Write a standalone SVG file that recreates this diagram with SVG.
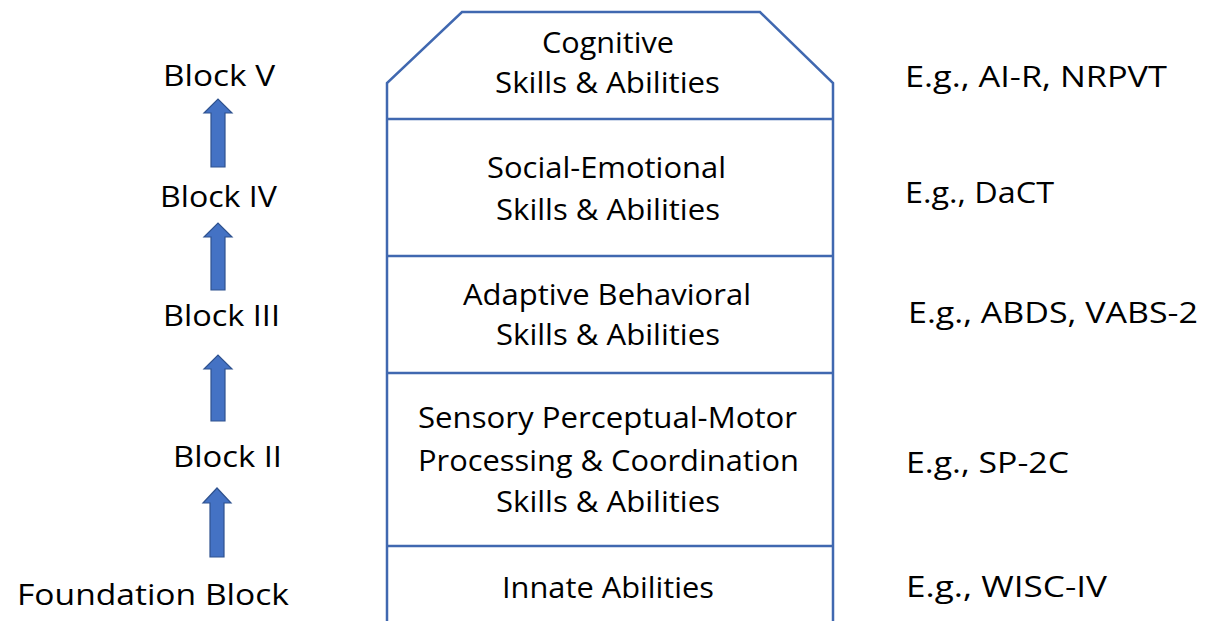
<svg xmlns="http://www.w3.org/2000/svg" width="1214" height="621" viewBox="0 0 1214 621">
<style>
.t{font-family:"Open Sans","Liberation Sans",sans-serif;fill:#000;font-size:30px}
.ln{stroke:#4068B0;stroke-width:2.5;fill:none}
.ar{fill:#4472C4;stroke:#2F528F;stroke-width:1.2}
</style>
<rect width="1214" height="621" fill="#fff"/>
<g id="tower">
<path class="ln" d="M387,621 V83 L462,12 H760 L833,83 V621"/>
<line class="ln" x1="387" y1="119" x2="833" y2="119"/>
<line class="ln" x1="387" y1="256" x2="833" y2="256"/>
<line class="ln" x1="387" y1="373" x2="833" y2="373"/>
<line class="ln" x1="387" y1="546" x2="833" y2="546"/>
</g>
<g id="cognitive"><text class="t" x="542" y="53" textLength="132" lengthAdjust="spacingAndGlyphs">Cognitive</text><text class="t" x="495" y="93" textLength="225" lengthAdjust="spacingAndGlyphs">Skills &amp; Abilities</text></g>
<g id="social"><text class="t" x="487" y="178" textLength="239" lengthAdjust="spacingAndGlyphs">Social-Emotional</text><text class="t" x="496" y="220" textLength="224" lengthAdjust="spacingAndGlyphs">Skills &amp; Abilities</text></g>
<g id="adaptive"><text class="t" x="463" y="305" textLength="288" lengthAdjust="spacingAndGlyphs">Adaptive Behavioral</text><text class="t" x="496" y="345" textLength="224" lengthAdjust="spacingAndGlyphs">Skills &amp; Abilities</text></g>
<g id="sensory"><text class="t" x="418" y="428" textLength="379" lengthAdjust="spacingAndGlyphs">Sensory Perceptual-Motor</text><text class="t" x="418" y="471" textLength="381" lengthAdjust="spacingAndGlyphs">Processing &amp; Coordination</text><text class="t" x="496" y="512" textLength="224" lengthAdjust="spacingAndGlyphs">Skills &amp; Abilities</text></g>
<g id="innate"><text class="t" x="502" y="598" textLength="212" lengthAdjust="spacingAndGlyphs">Innate Abilities</text></g>
<g id="labels">
<text class="t" x="163" y="86" textLength="112" lengthAdjust="spacingAndGlyphs">Block V</text>
<text class="t" x="160" y="207" textLength="117" lengthAdjust="spacingAndGlyphs">Block IV</text>
<text class="t" x="163" y="326" textLength="117" lengthAdjust="spacingAndGlyphs">Block III</text>
<text class="t" x="173" y="467" textLength="109" lengthAdjust="spacingAndGlyphs">Block II</text>
<text class="t" x="17" y="605" textLength="272" lengthAdjust="spacingAndGlyphs">Foundation Block</text>
</g>
<g id="examples">
<text class="t" x="905" y="87" textLength="262" lengthAdjust="spacingAndGlyphs">E.g., AI-R, NRPVT</text>
<text class="t" x="905" y="203" textLength="149" lengthAdjust="spacingAndGlyphs">E.g., DaCT</text>
<text class="t" x="908" y="323" textLength="290" lengthAdjust="spacingAndGlyphs">E.g., ABDS, VABS-2</text>
<text class="t" x="906" y="473" textLength="163" lengthAdjust="spacingAndGlyphs">E.g., SP-2C</text>
<text class="t" x="906" y="597" textLength="201" lengthAdjust="spacingAndGlyphs">E.g., WISC-IV</text>
</g>
<g id="connectors">
<path class="ar" d="M211,167 V113 H204 L218,99 L232,113 H225 V167 Z"/>
<path class="ar" d="M211,290 V237 H204 L218,223 L232,237 H225 V290 Z"/>
<path class="ar" d="M211,421 V369 H204 L218,355 L232,369 H225 V421 Z"/>
<path class="ar" d="M210,557 V503 H203 L217,488 L231,503 H224 V557 Z"/>
</g>
</svg>
